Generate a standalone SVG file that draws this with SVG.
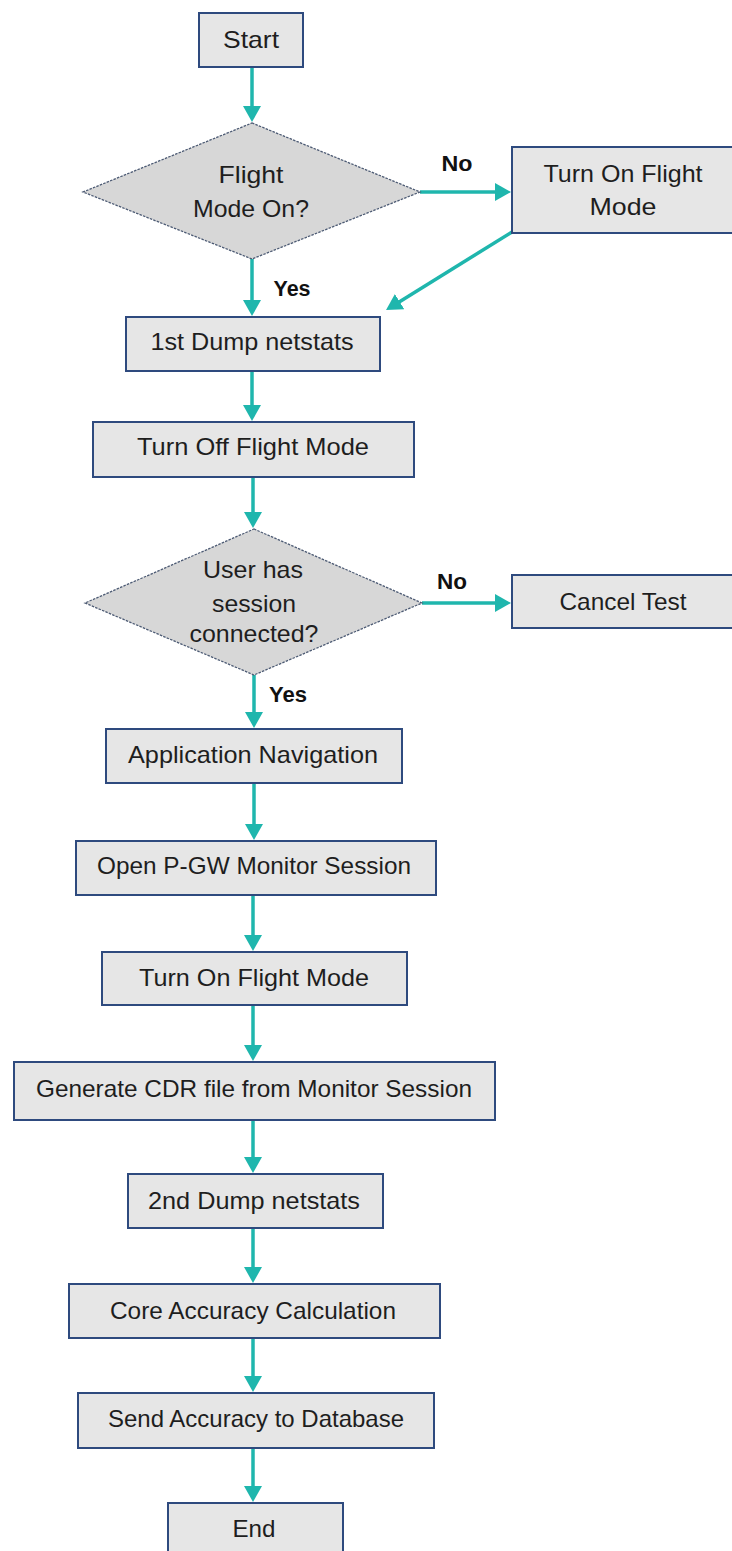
<svg xmlns="http://www.w3.org/2000/svg" width="732" height="1551" viewBox="0 0 732 1551">
  <style>
    .box { fill: #e6e6e6; stroke: #2e4a7e; stroke-width: 2; }
    .dec { fill: #d7d7d7; stroke: #4d5b74; stroke-width: 1.3; stroke-dasharray: 2.5 1.2; }
    .lbl { font-family: "Liberation Sans", Arial, sans-serif; font-size: 24px; fill: #1e1e1e; text-anchor: middle; }
    .yn { font-family: "Liberation Sans", Arial, sans-serif; font-size: 22px; font-weight: bold; fill: #111; text-anchor: middle; }
    .flow { fill: none; stroke: #1fb6ad; stroke-width: 3.5; marker-end: url(#head); }
  </style>
  <defs>
    <marker id="head" markerUnits="userSpaceOnUse" markerWidth="17" markerHeight="19" refX="11" refY="9" orient="auto">
      <path d="M0,0 L16,9 L0,18 Z" fill="#1fb6ad"/>
    </marker>
  </defs>
  <rect width="732" height="1551" fill="#ffffff"/>

  <g id="connectors">
    <line class="flow" x1="252" y1="67" x2="252" y2="117"/>
    <line class="flow" x1="420" y1="192" x2="506" y2="192"/>
    <line class="flow" x1="512" y1="232" x2="390.3" y2="307.4"/>
    <line class="flow" x1="252" y1="259" x2="252" y2="311"/>
    <line class="flow" x1="252" y1="371" x2="252" y2="416"/>
    <line class="flow" x1="253" y1="477" x2="253" y2="523"/>
    <line class="flow" x1="422" y1="603" x2="506" y2="603"/>
    <line class="flow" x1="254" y1="675" x2="254" y2="723"/>
    <line class="flow" x1="254" y1="783" x2="254" y2="835"/>
    <line class="flow" x1="253" y1="895" x2="253" y2="946"/>
    <line class="flow" x1="253" y1="1005" x2="253" y2="1056"/>
    <line class="flow" x1="253" y1="1120" x2="253" y2="1168"/>
    <line class="flow" x1="253" y1="1228" x2="253" y2="1278"/>
    <line class="flow" x1="253" y1="1338" x2="253" y2="1387"/>
    <line class="flow" x1="253" y1="1448" x2="253" y2="1497"/>
    <text class="yn" x="457" y="171" textLength="31" lengthAdjust="spacingAndGlyphs">No</text>
    <text class="yn" x="292" y="296" textLength="37" lengthAdjust="spacingAndGlyphs">Yes</text>
    <text class="yn" x="452" y="589" textLength="30" lengthAdjust="spacingAndGlyphs">No</text>
    <text class="yn" x="288" y="702" textLength="38" lengthAdjust="spacingAndGlyphs">Yes</text>
  </g>

  <g id="start">
    <rect class="box" x="199" y="13" width="104" height="54"/>
    <text class="lbl" x="251" y="47.5" textLength="56" lengthAdjust="spacingAndGlyphs">Start</text>
  </g>

  <g id="flight-mode-check">
    <polygon class="dec" points="252,123 420,192 252,259 83,192"/>
    <text class="lbl" x="251" y="183" textLength="65" lengthAdjust="spacingAndGlyphs">Flight</text>
    <text class="lbl" x="251" y="217" textLength="116" lengthAdjust="spacingAndGlyphs">Mode On?</text>
  </g>

  <g id="turn-on-flight-mode-1">
    <rect class="box" x="512" y="147" width="226" height="86"/>
    <text class="lbl" x="623" y="182" textLength="159" lengthAdjust="spacingAndGlyphs">Turn On Flight</text>
    <text class="lbl" x="623" y="215" textLength="67" lengthAdjust="spacingAndGlyphs">Mode</text>
  </g>

  <g id="dump-1">
    <rect class="box" x="126" y="317" width="254" height="54"/>
    <text class="lbl" x="252" y="350" textLength="203" lengthAdjust="spacingAndGlyphs">1st Dump netstats</text>
  </g>

  <g id="turn-off-flight-mode">
    <rect class="box" x="93" y="422" width="321" height="55"/>
    <text class="lbl" x="253" y="455" textLength="232" lengthAdjust="spacingAndGlyphs">Turn Off Flight Mode</text>
  </g>

  <g id="session-check">
    <polygon class="dec" points="254,529 422,603 254,675 85,603"/>
    <text class="lbl" x="253" y="578" textLength="100" lengthAdjust="spacingAndGlyphs">User has</text>
    <text class="lbl" x="254" y="612" textLength="84" lengthAdjust="spacingAndGlyphs">session</text>
    <text class="lbl" x="254" y="642" textLength="129" lengthAdjust="spacingAndGlyphs">connected?</text>
  </g>

  <g id="cancel-test">
    <rect class="box" x="512" y="575" width="226" height="53"/>
    <text class="lbl" x="623" y="610" textLength="127" lengthAdjust="spacingAndGlyphs">Cancel Test</text>
  </g>

  <g id="app-navigation">
    <rect class="box" x="106" y="729" width="296" height="54"/>
    <text class="lbl" x="253" y="763" textLength="250" lengthAdjust="spacingAndGlyphs">Application Navigation</text>
  </g>

  <g id="open-monitor">
    <rect class="box" x="76" y="841" width="360" height="54"/>
    <text class="lbl" x="254" y="874" textLength="314" lengthAdjust="spacingAndGlyphs">Open P-GW Monitor Session</text>
  </g>

  <g id="turn-on-flight-mode-2">
    <rect class="box" x="102" y="952" width="305" height="53"/>
    <text class="lbl" x="254" y="986" textLength="230" lengthAdjust="spacingAndGlyphs">Turn On Flight Mode</text>
  </g>

  <g id="generate-cdr">
    <rect class="box" x="14" y="1062" width="481" height="58"/>
    <text class="lbl" x="254" y="1097" textLength="436" lengthAdjust="spacingAndGlyphs">Generate CDR file from Monitor Session</text>
  </g>

  <g id="dump-2">
    <rect class="box" x="128" y="1174" width="255" height="54"/>
    <text class="lbl" x="254" y="1209" textLength="212" lengthAdjust="spacingAndGlyphs">2nd Dump netstats</text>
  </g>

  <g id="accuracy-calc">
    <rect class="box" x="69" y="1284" width="371" height="54"/>
    <text class="lbl" x="253" y="1319" textLength="286" lengthAdjust="spacingAndGlyphs">Core Accuracy Calculation</text>
  </g>

  <g id="send-accuracy">
    <rect class="box" x="78" y="1393" width="356" height="55"/>
    <text class="lbl" x="256" y="1427" textLength="296" lengthAdjust="spacingAndGlyphs">Send Accuracy to Database</text>
  </g>

  <g id="end">
    <rect class="box" x="168" y="1503" width="175" height="56"/>
    <text class="lbl" x="254" y="1537" textLength="43" lengthAdjust="spacingAndGlyphs">End</text>
  </g>
</svg>
